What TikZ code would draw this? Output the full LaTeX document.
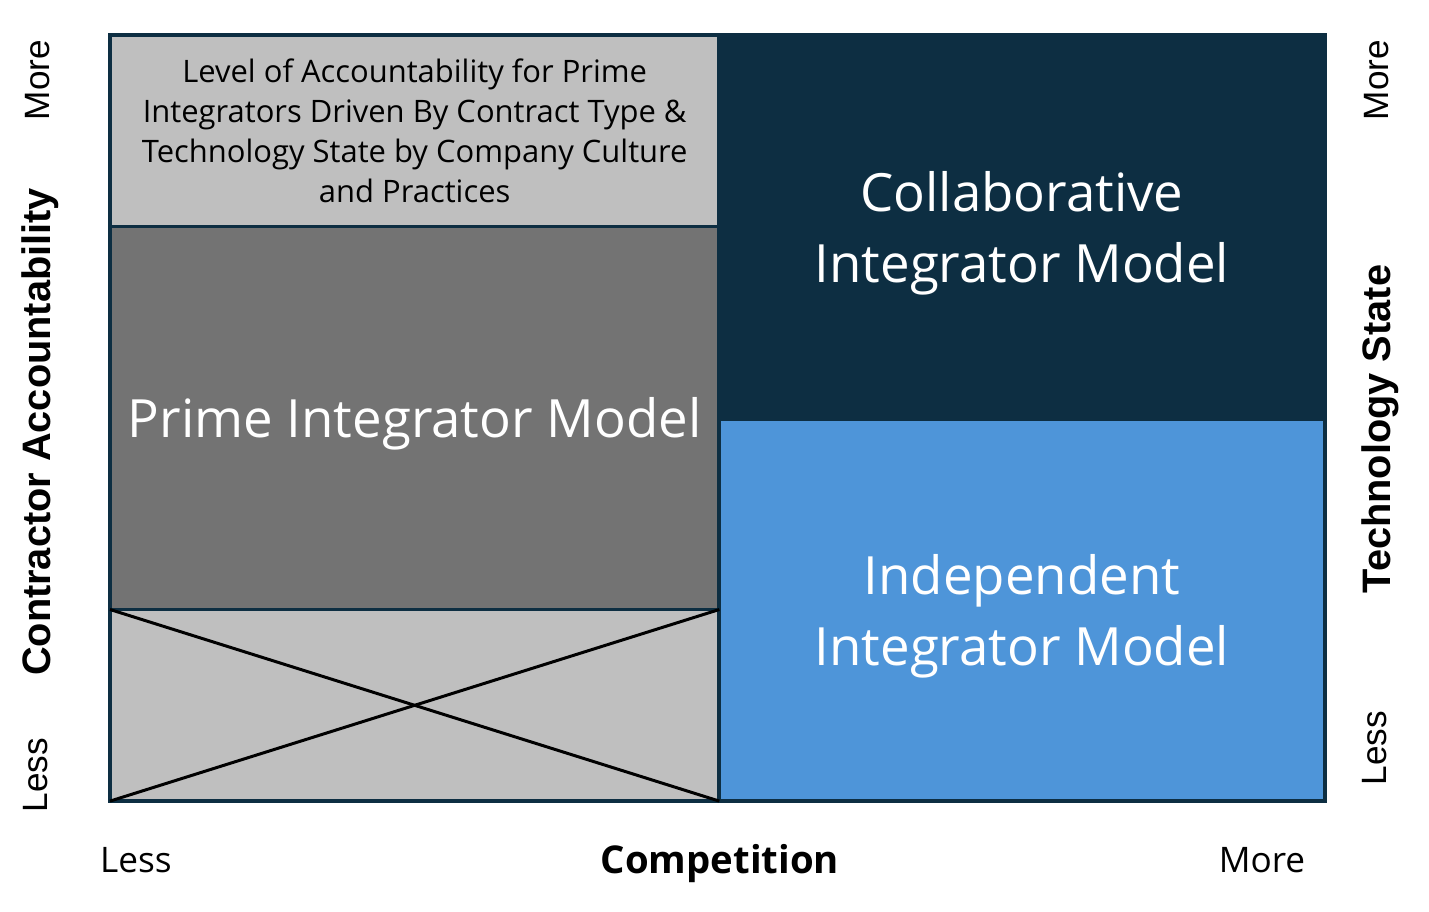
\documentclass[tikz,border=0pt]{standalone}
\usepackage{fontspec}
\setmainfont{Open Sans}
\newfontfamily\arialfont{Liberation Sans}
\definecolor{navy}{HTML}{0D2E42}
\definecolor{skyblue}{HTML}{4E95D9}
\definecolor{darkgrey}{HTML}{737373}
\definecolor{lightgrey}{HTML}{BFBFBF}
\begin{document}
\begin{tikzpicture}[x=0.01cm, y=-0.01cm,
  box/.style={draw=navy, line width=1pt, rectangle, anchor=north west, inner sep=0pt, outer sep=0pt, align=center},
  bigtext/.style={text=white, align=center, yshift=-0.055cm, font=\fontsize{15}{20.2}\selectfont},
  sidelabel/.style={rotate=90, font=\arialfont\fontsize{10}{12}\selectfont},
  axislabel/.style={font=\fontsize{10}{12}\selectfont}]
  \useasboundingbox (0,0) rectangle (1429,912);
  % Nodes
  \node[box, fill=lightgrey, minimum width=6.09cm, minimum height=1.915cm, font=\fontsize{8.8}{11.35}\selectfont] (level) at (110,35) {Level of Accountability for Prime\\Integrators Driven By Contract Type \&\\Technology State by Company Culture\\and Practices};
  \node[box, fill=darkgrey, minimum width=6.09cm, minimum height=3.83cm] (prime) at (110,226.5) {};
  \node[box, fill=lightgrey, minimum width=6.09cm, minimum height=1.915cm] (empty) at (110,609.5) {};
  \node[box, fill=navy, minimum width=6.055cm, minimum height=3.845cm] (collab) at (719,35) {};
  \node[box, fill=skyblue, minimum width=6.055cm, minimum height=3.815cm] (indep) at (719,419.5) {};

  \node[bigtext] (primetext) at (prime.center) {Prime Integrator Model};
  \node[bigtext] (collabtext) at (collab.center) {Collaborative\\Integrator Model};
  \node[bigtext] (indeptext) at (indep.center) {Independent\\Integrator Model};

  \node[sidelabel] (accmore) at (38,80) {More};
  \node[sidelabel, font=\arialfont\bfseries\fontsize{11.3}{13}\selectfont] (acc) at (40,432) {Contractor Accountability};
  \node[sidelabel] (accless) at (36,775) {Less};
  \node[sidelabel] (techmore) at (1377,80) {More};
  \node[sidelabel, font=\arialfont\bfseries\fontsize{11.3}{13}\selectfont] (tech) at (1380,429) {Technology State};
  \node[sidelabel] (techless) at (1375,748) {Less};

  \node[axislabel] (compless) at (136,860) {Less};
  \node[axislabel, font=\bfseries\fontsize{10.9}{12}\selectfont] (comp) at (720,864) {Competition};
  \node[axislabel] (compmore) at (1262,860) {More};

  % Edges
  \draw[line width=0.85pt] (empty.north west) -- (empty.south east);
  \draw[line width=0.85pt] (empty.south west) -- (empty.north east);
\end{tikzpicture}
\end{document}
